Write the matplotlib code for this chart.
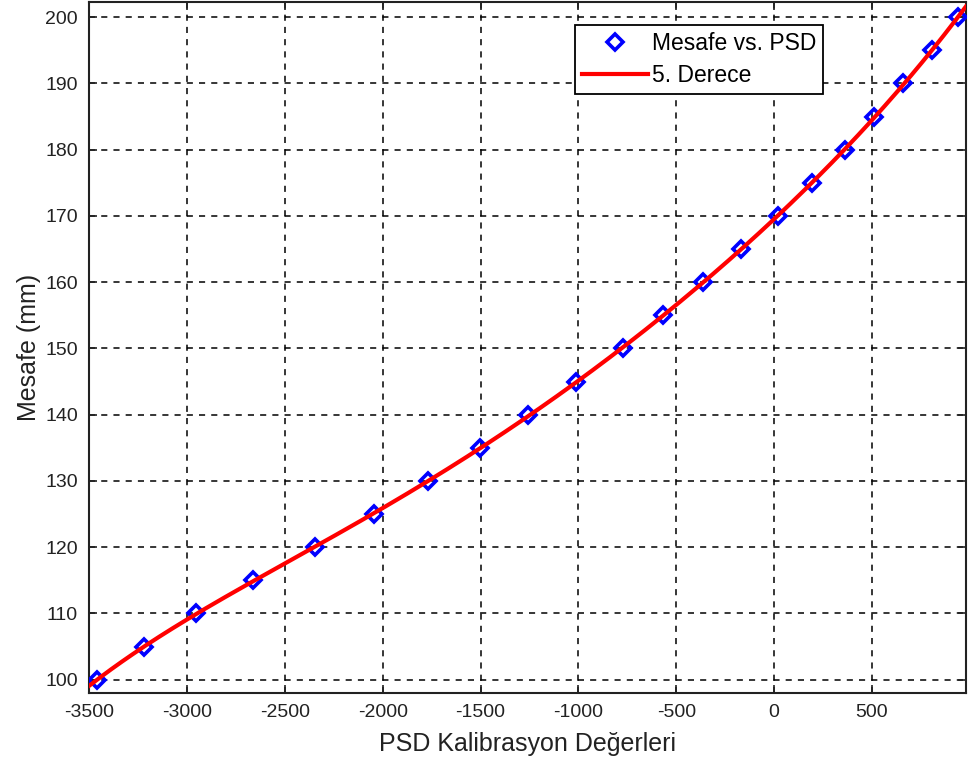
import numpy as np
import matplotlib
matplotlib.use("Agg")
import matplotlib.pyplot as plt

plt.rcParams['font.family'] = ['Liberation Sans', 'DejaVu Sans']

# PSD calibration readings and measured distances
psd_values = [-3458, -3218, -2952, -2661, -2344, -2043, -1767, -1502, -1256, -1011,
              -771, -567, -363, -169, 20, 194, 363, 511, 659, 807, 940]
distance_mm = [100, 105, 110, 115, 120, 125, 130, 135, 140, 145,
               150, 155, 160, 165, 170, 175, 180, 185, 190, 195, 200]
x_ticks = [-3500, -3000, -2500, -2000, -1500, -1000, -500, 0, 500]
y_ticks = [100, 110, 120, 130, 140, 150, 160, 170, 180, 190, 200]
x_range = (-3500, 980)
y_range = (98, 202.3)
fit_degree = 5

x = np.array(psd_values, dtype=float)
y = np.array(distance_mm, dtype=float)
coeffs = np.polyfit(x, y, fit_degree)
xf = np.linspace(x_range[0], x_range[1], 400)
yf = np.polyval(coeffs, xf)

fig = plt.figure(figsize=(9.69, 7.58), dpi=100)
ax = fig.add_axes([89/969, 65/758, 877/969, 691/758])

ax.plot(x, y, linestyle='none', marker='D', markersize=8, markerfacecolor='none',
        markeredgecolor='#0000ff', markeredgewidth=2.6, label='Mesafe vs. PSD', zorder=3)
ax.plot(xf, yf, color='#ff0000', linewidth=3, label='5. Derece', zorder=4)

ax.set_xlim(*x_range)
ax.set_ylim(*y_range)
ax.set_xticks(x_ticks)
ax.set_yticks(y_ticks)
ax.set_xticklabels([str(t) for t in x_ticks])
ax.set_yticklabels([str(t) for t in y_ticks])

ax.grid(True, color='black', linestyle=(0, (4, 4)), linewidth=1.1)
ax.tick_params(direction='in', length=6, width=1.2, top=True, right=True,
               labelsize=14, colors='#222222', pad=8)
for s in ax.spines.values():
    s.set_linewidth(1.5)
    s.set_color('#222222')

ax.set_xlabel('PSD Kalibrasyon Değerleri', fontsize=18, color='#222222', labelpad=8)
ax.set_ylabel('Mesafe (mm)', fontsize=18, color='#222222', labelpad=3)

leg = ax.legend(loc='upper left', bbox_to_anchor=(0.554, 0.967), fontsize=16.5,
                frameon=True, fancybox=False, edgecolor='black', framealpha=1,
                borderpad=0.3, handlelength=2.9, handletextpad=0.15, labelspacing=0.4,
                borderaxespad=0)
leg.get_frame().set_linewidth(1.3)

fig.savefig('out.png', dpi=100)
